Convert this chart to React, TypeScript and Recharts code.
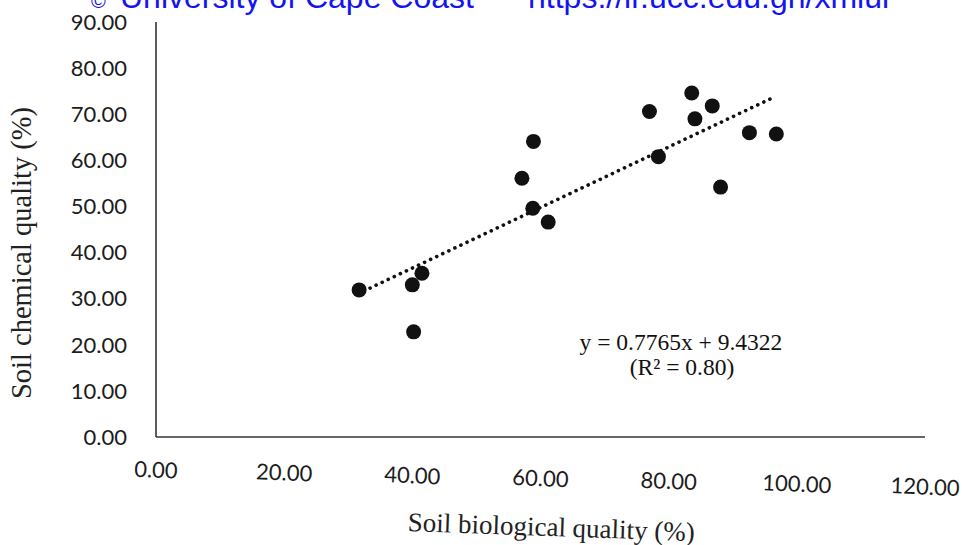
import React from 'react';
import { ScatterChart, Scatter, XAxis, YAxis, ReferenceLine } from 'recharts';

// Soil biological quality (%) -> x, Soil chemical quality (%) -> y
const biologicalQuality = [31.7, 40.0, 41.5, 40.2, 57.1, 58.9, 58.8, 61.2, 77.0, 78.4, 83.6, 84.1, 86.8, 88.1, 92.6, 96.8];
const chemicalQuality = [31.9, 33.0, 35.5, 22.8, 56.1, 64.1, 49.6, 46.6, 70.6, 60.8, 74.6, 69.0, 71.8, 54.2, 66.0, 65.7];

// trend line as drawn (dotted linear fit)
const trendX = [33.4, 96.6];
const trendY = [32.3, 73.8];

const xTicks = [0, 20, 40, 60, 80, 100, 120];
const yTicks = [0, 10, 20, 30, 40, 50, 60, 70, 80, 90];

const equationText = 'y = 0.7765x + 9.4322';
const r2Text = '(R² = 0.80)';
const xTitle = 'Soil biological quality (%)';
const yTitle = 'Soil chemical quality (%)';
const headerLeft = 'University of Cape Coast';
const headerRight = 'https://ir.ucc.edu.gh/xmlui';

const points = biologicalQuality.map((x, i) => ({ x, y: chemicalQuality[i] }));

const tickFamily = 'Lato, "Open Sans", sans-serif';
const tickFont = { fontFamily: tickFamily, fontSize: 22, fill: '#1c1c1c' };
const serif = '"Liberation Serif", "DejaVu Serif", serif';

const Dot = (props: any) => <circle cx={props.cx} cy={props.cy} r={7.5} fill="#111" />;

// x tick that follows the slight tilt of the scanned page
const XTick = (props: any) => {
  const { x, y, payload } = props;
  const shift = (x - 156) * 0.022;
  return (
    <text
      x={x}
      y={y + shift}
      dy="0.71em"
      textAnchor="middle"
      fontFamily={tickFamily}
      fontSize={22}
      fill="#1c1c1c"
      transform={`rotate(2.5 ${x} ${y + shift + 8})`}
    >
      {Number(payload.value).toFixed(2)}
    </text>
  );
};

export default function App() {
  return (
    <div style={{ position: 'absolute', left: 0, top: 0, width: 962, height: 545, background: '#fff' }}>
      <ScatterChart width={962} height={545} margin={{ top: 22, right: 37, bottom: 0, left: 0 }}>
        <XAxis
          type="number"
          dataKey="x"
          domain={[0, 120]}
          ticks={xTicks}
          tickLine={false}
          tickSize={0}
          tickMargin={25}
          height={108}
          axisLine={{ stroke: '#333', strokeWidth: 1.6 }}
          tick={<XTick />}
          interval={0}
        />
        <YAxis
          type="number"
          dataKey="y"
          domain={[0, 90]}
          ticks={yTicks}
          tickFormatter={(v: number) => v.toFixed(2)}
          tickLine={false}
          tickSize={0}
          tickMargin={29}
          width={156}
          axisLine={{ stroke: '#333', strokeWidth: 1.6 }}
          tick={tickFont}
          interval={0}
        />
        <ReferenceLine
          segment={[{ x: trendX[0], y: trendY[0] }, { x: trendX[1], y: trendY[1] }]}
          stroke="#111"
          strokeWidth={3.6}
          strokeDasharray="0.1 6.6"
          strokeLinecap="round"
          ifOverflow="visible"
        />
        <Scatter data={points} fill="#111" shape={Dot} isAnimationActive={false} />
      </ScatterChart>
      <svg width={962} height={545} style={{ position: 'absolute', left: 0, top: 0, pointerEvents: 'none' }}>
        <text x={91} y={7.5} fontFamily='"Liberation Sans", Arial, sans-serif' fontSize={20} fill="#1414f0">©</text>
        <text x={120} y={7.5} fontFamily='"Liberation Sans", Arial, sans-serif' fontSize={32} fill="#1414f0">{headerLeft}</text>
        <text x={528} y={7.5} fontFamily='"Liberation Sans", Arial, sans-serif' fontSize={32} fill="#1414f0">{headerRight}</text>
        <text
          x={31}
          y={253}
          transform="rotate(-90 31 253)"
          textAnchor="middle"
          fontFamily={serif}
          fontSize={28.5}
          fill="#222"
        >
          {yTitle}
        </text>
        <text
          x={551}
          y={536}
          transform="rotate(2 551 536)"
          textAnchor="middle"
          fontFamily={serif}
          fontSize={27}
          fill="#222"
        >
          {xTitle}
        </text>
        <text x={681} y={350} textAnchor="middle" fontFamily={serif} fontSize={23.5} fill="#111">{equationText}</text>
        <text x={682} y={375} textAnchor="middle" fontFamily={serif} fontSize={23.5} fill="#111">{r2Text}</text>
      </svg>
    </div>
  );
}
